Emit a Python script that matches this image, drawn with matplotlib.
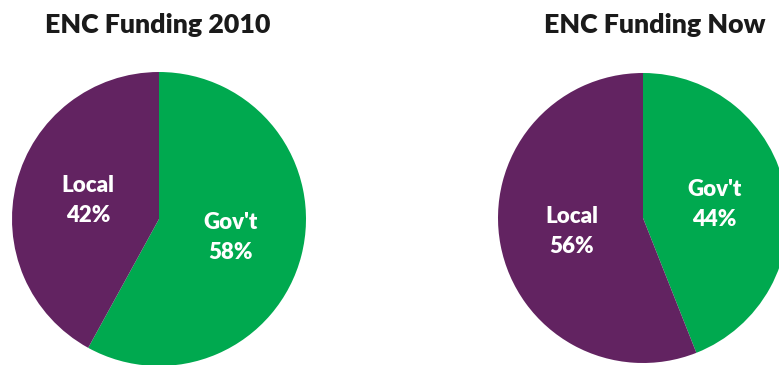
import matplotlib
matplotlib.use("Agg")
import matplotlib.pyplot as plt

categories = ["Gov't", "Local"]
funding_2010 = [58, 42]
funding_now = [44, 56]
titles = ["ENC Funding 2010", "ENC Funding Now"]
colors = ["#00A94F", "#622361"]

plt.rcParams['font.family'] = ['Lato', 'DejaVu Sans']

W, H = 779, 365
fig = plt.figure(figsize=(W / 100, H / 100), dpi=100)
fig.patch.set_facecolor('white')

def add_pie(cx, cy, r, values):
    ax = fig.add_axes([(cx - r) / W, (H - cy - r) / H, 2 * r / W, 2 * r / H])
    labels_iter = iter(categories)
    def fmt(p):
        return f"{next(labels_iter)}\n{p:.0f}%"
    wedges, texts, autotexts = ax.pie(values, colors=colors, startangle=90,
                                      counterclock=False, radius=1,
                                      autopct=fmt, pctdistance=0.5,
                                      wedgeprops=dict(linewidth=0))
    for t in autotexts:
        t.set_color('white')
        t.set_fontsize(16)
        t.set_fontweight('heavy')
        t.set_linespacing(1.55)
    ax.set_xlim(-1, 1)
    ax.set_ylim(-1, 1)
    ax.set_aspect('equal')
    ax.axis('off')
    return ax

add_pie(159, 219, 147, funding_2010)
add_pie(643, 218, 145, funding_now)

fig.text(158 / W, 1 - 25 / H, titles[0], ha='center', va='center',
         fontsize=19.3, fontweight='heavy', color='#1a1a1a')
fig.text(655 / W, 1 - 25 / H, titles[1], ha='center', va='center',
         fontsize=19.3, fontweight='heavy', color='#1a1a1a')

fig.savefig('out.png', dpi=100, facecolor='white')
